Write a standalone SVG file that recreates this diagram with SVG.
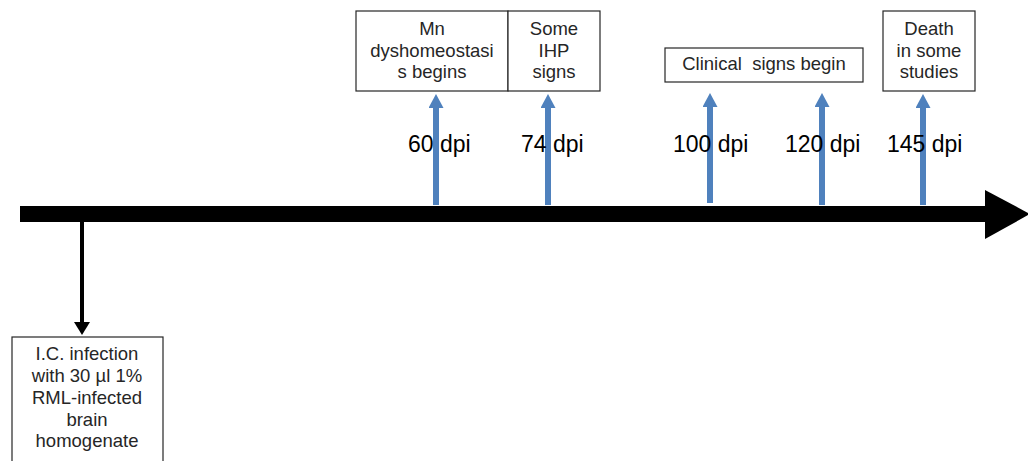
<svg xmlns="http://www.w3.org/2000/svg" width="1028" height="461" viewBox="0 0 1028 461">
  <style>
    .box { fill: #ffffff; stroke: #262626; stroke-width: 1.2; }
    .lbl { font-family: "Liberation Sans", Arial, sans-serif; font-size: 18.5px; fill: #262626; text-anchor: middle; }
    .dpi { font-family: "Liberation Sans", Arial, sans-serif; font-size: 23px; fill: #000000; }
    .up { stroke: #4F81BD; stroke-width: 6; fill: none; marker-end: url(#blueHead); }
    .down { stroke: #000000; stroke-width: 4; fill: none; marker-end: url(#blackHead); }
  </style>
  <defs>
    <marker id="blueHead" markerUnits="userSpaceOnUse" markerWidth="16" markerHeight="16" refX="0" refY="7.5" orient="auto">
      <path d="M0,0 L14,7.5 L0,15 Z" fill="#4F81BD"/>
    </marker>
    <marker id="blackHead" markerUnits="userSpaceOnUse" markerWidth="18" markerHeight="18" refX="0" refY="8" orient="auto">
      <path d="M0,0 L13,8 L0,16 Z" fill="#000000"/>
    </marker>
  </defs>
  <rect width="1028" height="461" fill="#ffffff"/>

  <!-- time axis -->
  <g id="timeline">
    <rect x="20" y="206" width="966" height="16" fill="#000000"/>
    <polygon points="985,190 1030,214 985,239" fill="#000000"/>
  </g>

  <!-- connectors -->
  <g id="connectors">
    <line class="down" x1="82" y1="222" x2="82" y2="322"/>
    <line class="up" x1="436" y1="205" x2="436" y2="108"/>
    <line class="up" x1="548" y1="205" x2="548" y2="108"/>
    <line class="up" x1="710" y1="203" x2="710" y2="107"/>
    <line class="up" x1="822" y1="205" x2="822" y2="107"/>
    <line class="up" x1="923" y1="205" x2="923" y2="108"/>
  </g>

  <!-- day labels -->
  <g id="day-labels">
    <text class="dpi" x="408" y="152">60 dpi</text>
    <text class="dpi" x="521" y="152">74 dpi</text>
    <text class="dpi" x="673" y="152">100 dpi</text>
    <text class="dpi" x="785" y="152">120 dpi</text>
    <text class="dpi" x="887" y="152">145 dpi</text>
  </g>

  <g id="node-infection">
    <rect class="box" x="12" y="337" width="151" height="130"/>
    <text class="lbl" x="87" y="360">I.C. infection</text>
    <text class="lbl" x="87" y="382">with 30 µl 1%</text>
    <text class="lbl" x="87" y="404">RML-infected</text>
    <text class="lbl" x="87" y="426">brain</text>
    <text class="lbl" x="87" y="447">homogenate</text>
  </g>

  <g id="node-mn">
    <rect class="box" x="356" y="11" width="152" height="80"/>
    <text class="lbl" x="432" y="35">Mn</text>
    <text class="lbl" x="432" y="57">dyshomeostasi</text>
    <text class="lbl" x="432" y="78">s begins</text>
  </g>

  <g id="node-ihp">
    <rect class="box" x="508" y="11" width="92" height="80"/>
    <text class="lbl" x="554" y="35">Some</text>
    <text class="lbl" x="554" y="57">IHP</text>
    <text class="lbl" x="554" y="78">signs</text>
  </g>

  <g id="node-clinical">
    <rect class="box" x="665" y="48" width="198" height="34"/>
    <text class="lbl" x="764" y="70" xml:space="preserve">Clinical  signs begin</text>
  </g>

  <g id="node-death">
    <rect class="box" x="883" y="11" width="92" height="80"/>
    <text class="lbl" x="929" y="35">Death</text>
    <text class="lbl" x="929" y="57">in some</text>
    <text class="lbl" x="929" y="78">studies</text>
  </g>
</svg>
